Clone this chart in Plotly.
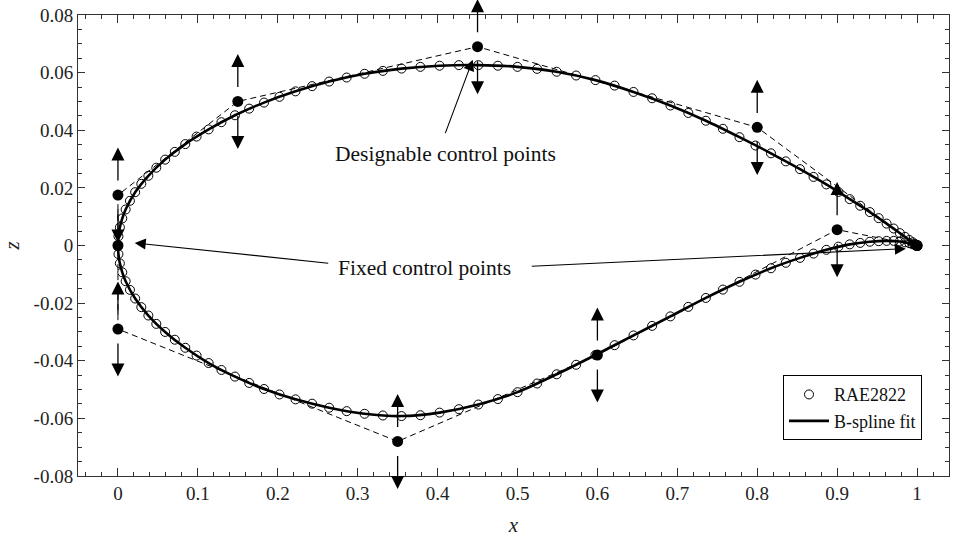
import plotly.graph_objects as go

# RAE2822 section coordinates (chordwise stations shared by both surfaces)
x_stations = [
    0.0, 0.000602, 0.002408, 0.005412, 0.009607, 0.014984, 0.021530, 0.029228,
    0.038060, 0.048005, 0.059039, 0.071136, 0.084265, 0.098396, 0.113495, 0.129524,
    0.146447, 0.164221, 0.182803, 0.202150, 0.222215, 0.242949, 0.264302, 0.286222,
    0.308658, 0.331555, 0.354858, 0.378510, 0.402455, 0.426635, 0.450991, 0.475466,
    0.5, 0.524534, 0.549009, 0.573365, 0.597545, 0.621490, 0.645142, 0.668445,
    0.691342, 0.713778, 0.735698, 0.757051, 0.777785, 0.797850, 0.817197, 0.835779,
    0.853553, 0.870476, 0.886505, 0.901604, 0.915735, 0.928864, 0.940961, 0.951995,
    0.961940, 0.970772, 0.978470, 0.985016, 0.990393, 0.994588, 0.997592, 0.999398, 1.0,
]
z_upper = [
    0.0, 0.0032, 0.0063, 0.0094, 0.0125, 0.0155, 0.0185, 0.0214,
    0.0242, 0.0270, 0.0298, 0.0325, 0.0352, 0.0378, 0.0403, 0.0428,
    0.0452, 0.0475, 0.0496, 0.0516, 0.0535, 0.0553, 0.0569, 0.0583,
    0.0596, 0.0606, 0.0614, 0.0620, 0.0624, 0.0626, 0.0626, 0.0624,
    0.0620, 0.0613, 0.0603, 0.0590, 0.0574, 0.0555, 0.0533, 0.0511,
    0.0486, 0.0460, 0.0433, 0.0405, 0.0376, 0.0347, 0.0320, 0.0292,
    0.0265, 0.0238, 0.0212, 0.0186, 0.0161, 0.0138, 0.0116, 0.0095,
    0.0076, 0.0059, 0.0043, 0.0030, 0.0019, 0.0011, 0.0005, 0.0002, 0.0,
]
z_lower = [
    0.0, -0.0030, -0.0062, -0.0093, -0.0124, -0.0154, -0.0184, -0.0214,
    -0.0243, -0.0272, -0.0300, -0.0327, -0.0355, -0.0382, -0.0408, -0.0432,
    -0.0455, -0.0477, -0.0498, -0.0517, -0.0534, -0.0549, -0.0563, -0.0575,
    -0.0584, -0.0590, -0.0592, -0.0589, -0.0580, -0.0568, -0.0552, -0.0533,
    -0.0509, -0.0479, -0.0447, -0.0414, -0.0380, -0.0346, -0.0312, -0.0279,
    -0.0246, -0.0213, -0.0182, -0.0153, -0.0126, -0.0101, -0.0079, -0.0060,
    -0.0043, -0.0028, -0.0015, -0.0004, 0.0004, 0.0009, 0.0013, 0.0015,
    0.0016, 0.0016, 0.0014, 0.0011, 0.0008, 0.0004, 0.0002, 0.0001, 0.0,
]

# B-spline fit curve, sampled from the lower trailing edge round the nose to the upper trailing edge
fit_x = [
    1.0, 0.990393, 0.978470, 0.961940, 0.940961, 0.915735, 0.886505, 0.853553,
    0.817197, 0.777785, 0.735698, 0.691342, 0.645142, 0.597545, 0.549009, 0.5,
    0.450991, 0.402455, 0.354858, 0.308658, 0.264302, 0.222215, 0.182803, 0.146447,
    0.113495, 0.084265, 0.059039, 0.038060, 0.021530, 0.009607, 0.005412, 0.002408,
    0.000602, 0.0,
    0.000602, 0.002408, 0.005412, 0.009607, 0.021530, 0.038060, 0.059039, 0.084265,
    0.113495, 0.146447, 0.182803, 0.222215, 0.264302, 0.308658, 0.354858, 0.402455,
    0.450991, 0.5, 0.549009, 0.597545, 0.645142, 0.691342, 0.735698, 0.777785,
    0.817197, 0.853553, 0.886505, 0.915735, 0.940961, 0.961940, 0.978470, 0.990393, 1.0,
]
fit_z = [
    0.0, 0.0008, 0.0014, 0.0016, 0.0013, 0.0004, -0.0015, -0.0043,
    -0.0079, -0.0126, -0.0182, -0.0246, -0.0312, -0.0380, -0.0447, -0.0509,
    -0.0552, -0.0580, -0.0592, -0.0584, -0.0563, -0.0534, -0.0498, -0.0455,
    -0.0408, -0.0355, -0.0300, -0.0243, -0.0184, -0.0124, -0.0093, -0.0062,
    -0.0030, 0.0,
    0.0032, 0.0063, 0.0094, 0.0125, 0.0185, 0.0242, 0.0298, 0.0352,
    0.0403, 0.0452, 0.0496, 0.0535, 0.0569, 0.0596, 0.0614, 0.0624,
    0.0626, 0.0620, 0.0603, 0.0574, 0.0533, 0.0486, 0.0433, 0.0376,
    0.0320, 0.0265, 0.0212, 0.0161, 0.0116, 0.0076, 0.0043, 0.0019, 0.0,
]

# Control polygon (lower TE -> nose -> upper TE)
ctrl_x = [1.0, 0.9, 0.6, 0.35, 0.0, 0.0, 0.0, 0.15, 0.45, 0.8, 1.0]
ctrl_z = [0.0, 0.0055, -0.038, -0.068, -0.029, 0.0, 0.0175, 0.05, 0.069, 0.041, 0.0]
# Which control points are free to move vertically
ctrl_designable = [False, True, True, True, True, False, True, True, True, True, False]

x_tickvals = [0, 0.1, 0.2, 0.3, 0.4, 0.5, 0.6, 0.7, 0.8, 0.9, 1.0]
x_ticktext = ["0", "0.1", "0.2", "0.3", "0.4", "0.5", "0.6", "0.7", "0.8", "0.9", "1"]
z_tickvals = [-0.08, -0.06, -0.04, -0.02, 0, 0.02, 0.04, 0.06, 0.08]
z_ticktext = ["-0.08", "-0.06", "-0.04", "-0.02", "0", "0.02", "0.04", "0.06", "0.08"]

FONT = "Liberation Serif, Times New Roman, serif"

fig = go.Figure()

# control polygon
fig.add_trace(go.Scatter(
    x=ctrl_x, y=ctrl_z, mode="lines",
    line=dict(color="black", width=1, dash="6px,4px"),
    showlegend=False, hoverinfo="skip",
))

# airfoil data points (lower surface reversed so the loop is continuous)
fig.add_trace(go.Scatter(
    x=x_stations[::-1] + x_stations[1:],
    y=z_lower[::-1] + z_upper[1:],
    mode="markers", name="RAE2822",
    marker=dict(symbol="circle-open", size=9, color="black", line=dict(width=1)),
))

# B-spline fit
fig.add_trace(go.Scatter(
    x=fit_x, y=fit_z, mode="lines", name="B-spline fit",
    line=dict(color="black", width=2.6, shape="spline", smoothing=0.8),
))

# control points
fig.add_trace(go.Scatter(
    x=ctrl_x, y=ctrl_z, mode="markers",
    marker=dict(symbol="circle", size=11, color="black"),
    showlegend=False, hoverinfo="skip",
))

annotations = []

arrow_style = dict(
    xref="x", yref="y", axref="x", ayref="y", text="", showarrow=True,
    arrowhead=2, arrowcolor="black", standoff=0, startstandoff=0,
)

# up/down arrows on each designable control point
gap, reach = 0.0045, 0.0165
for cx, cz, free in zip(ctrl_x, ctrl_z, ctrl_designable):
    if not free:
        continue
    for sign in (1, -1):
        annotations.append(dict(
            x=cx, y=cz + sign * reach, ax=cx, ay=cz + sign * gap,
            arrowsize=2.0, arrowwidth=1.3, **arrow_style,
        ))

# callout labels
annotations.append(dict(
    x=0.41, y=0.0316, xref="x", yref="y", text="Designable control points",
    showarrow=False, font=dict(family=FONT, size=21.5, color="#111"),
))
annotations.append(dict(
    x=0.444, y=0.0645, ax=0.409, ay=0.0385, arrowsize=2.0, arrowwidth=1.1, **arrow_style,
))
annotations.append(dict(
    x=0.384, y=-0.0078, xref="x", yref="y", text="Fixed control points",
    showarrow=False, font=dict(family=FONT, size=21.5, color="#111"),
))
annotations.append(dict(
    x=0.021, y=0.0009, ax=0.265, ay=-0.0062, arrowsize=2.0, arrowwidth=1.1, **arrow_style,
))
annotations.append(dict(
    x=0.986, y=-0.0011, ax=0.516, ay=-0.0072, arrowsize=2.0, arrowwidth=1.1, **arrow_style,
))

axis_common = dict(
    showline=True, linecolor="#333", linewidth=1, mirror="allticks",
    ticks="inside", tickcolor="#333", showgrid=False, zeroline=False,
    tickfont=dict(family=FONT, size=19, color="#222"),
)

fig.update_layout(
    width=955, height=537,
    margin=dict(l=78, r=5, t=15, b=58),
    paper_bgcolor="white", plot_bgcolor="white",
    font=dict(family=FONT, color="#222"),
    xaxis=dict(
        range=[-0.05, 1.04], tickvals=x_tickvals, ticktext=x_ticktext,
        ticklen=8, minor=dict(dtick=0.02, tick0=0, ticks="inside", ticklen=4, tickcolor="#333"),
        title=dict(text="<i>x</i>", font=dict(family=FONT, size=21, color="#222"), standoff=14),
        **axis_common,
    ),
    yaxis=dict(
        range=[-0.08, 0.08], tickvals=z_tickvals, ticktext=z_ticktext,
        ticklen=7, minor=dict(dtick=0.005, tick0=0, ticks="inside", ticklen=4, tickcolor="#333"),
        title=dict(text="<i>z</i>", font=dict(family=FONT, size=21, color="#222"), standoff=14),
        **axis_common,
    ),
    legend=dict(
        x=0.969, y=0.0776, xanchor="right", yanchor="bottom",
        bgcolor="white", bordercolor="black", borderwidth=1,
        font=dict(family=FONT, size=18, color="#111"),
        tracegroupgap=0, itemwidth=40,
    ),
    annotations=annotations,
    showlegend=True,
)

fig.write_html("out.html")
